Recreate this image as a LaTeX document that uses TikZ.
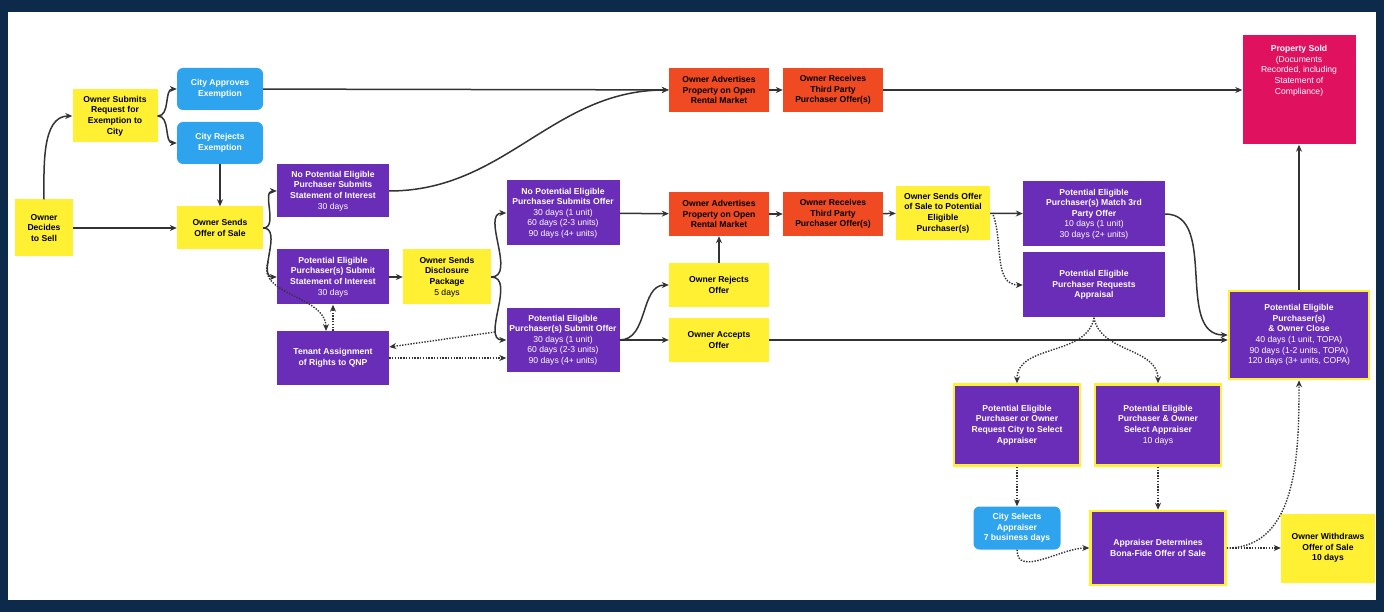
\documentclass[tikz,border=0pt]{standalone}
\usepackage{fontspec}
\setmainfont{Liberation Sans}
\usetikzlibrary{arrows.meta,calc}
\definecolor{yel}{HTML}{FFF033}
\definecolor{blu}{HTML}{2FA4EE}
\definecolor{pur}{HTML}{6A2DB8}
\definecolor{org}{HTML}{F04A23}
\definecolor{mag}{HTML}{E0115F}
\definecolor{navy}{HTML}{0E2A4A}
\definecolor{ln}{HTML}{333333}
\begin{document}
\begin{tikzpicture}[x=1pt,y=-1pt,
  box/.style={draw=none,align=center,inner sep=1pt,font=\fontsize{8.6}{10.6}\selectfont\bfseries},
  Y/.style={box,fill=yel,text=black},
  B/.style={box,fill=blu,text=white,rounded corners=6pt},
  P/.style={box,fill=pur,text=white},
  PY/.style={P,draw=yel,line width=2.5pt},
  O/.style={box,fill=org,text=black},
  M/.style={box,fill=mag,text=white},
  ar/.style={draw=ln,line width=1.5pt,-{Stealth[length=7pt,width=6pt]}},
  dt/.style={draw=ln,line width=1.4pt,dash pattern=on 1.4pt off 1.4pt,-{Stealth[length=7pt,width=6pt]}}]
\fill[navy] (0,0) rectangle (1384,612);
\fill[white] (8,12) rectangle (1376,600);
\node[Y,minimum width=58,minimum height=57] (sell) at (44,228) {Owner\\Decides\\to Sell};
\node[Y,minimum width=85,minimum height=53] (req) at (115,116) {Owner Submits\\Request for\\Exemption to\\City};
\node[B,minimum width=86,minimum height=42] (app) at (220,89) {City Approves\\Exemption};
\node[B,minimum width=86,minimum height=42] (rej) at (220,143) {City Rejects\\Exemption};
\node[Y,minimum width=86,minimum height=43] (offer) at (220,228) {Owner Sends\\Offer of Sale};
\node[P,minimum width=112,minimum height=53] (nopep) at (333,191) {No Potential Eligible\\Purchaser Submits\\Statement of Interest\\{\mdseries 30 days}};
\node[P,minimum width=112,minimum height=55] (pep) at (333,277) {Potential Eligible\\Purchaser(s) Submit\\Statement of Interest\\{\mdseries 30 days}};
\node[P,minimum width=112,minimum height=54] (ten) at (333,358) {Tenant Assignment\\of Rights to QNP};
\node[Y,minimum width=88,minimum height=55] (dis) at (447,277) {Owner Sends\\Disclosure\\Package\\{\mdseries 5 days}};
\node[P,minimum width=113,minimum height=65] (noo) at (563,213) {No Potential Eligible\\Purchaser Submits Offer\\{\mdseries 30 days (1 unit)}\\{\mdseries 60 days (2-3 units)}\\{\mdseries 90 days (4+ units)}};
\node[P,minimum width=113,minimum height=64] (sub) at (563,340) {Potential Eligible\\Purchaser(s) Submit Offer\\{\mdseries 30 days (1 unit)}\\{\mdseries 60 days (2-3 units)}\\{\mdseries 90 days (4+ units)}};
\node[O,minimum width=100,minimum height=44] (adv1) at (719,90) {Owner Advertises\\Property on Open\\Rental Market};
\node[O,minimum width=100,minimum height=44] (rec1) at (833,90) {Owner Receives\\Third Party\\Purchaser Offer(s)};
\node[O,minimum width=100,minimum height=44] (adv2) at (719,214) {Owner Advertises\\Property on Open\\Rental Market};
\node[O,minimum width=100,minimum height=44] (rec2) at (833,214) {Owner Receives\\Third Party\\Purchaser Offer(s)};
\node[Y,minimum width=100,minimum height=44] (ro) at (719,285) {Owner Rejects\\Offer};
\node[Y,minimum width=100,minimum height=44] (ao) at (719,340) {Owner Accepts\\Offer};
\node[Y,minimum width=94,minimum height=54] (sp) at (943,213) {Owner Sends Offer\\of Sale to Potential\\Eligible\\Purchaser(s)};
\node[P,minimum width=142,minimum height=65] (mat) at (1094,214) {Potential Eligible\\Purchaser(s) Match 3rd\\Party Offer\\{\mdseries 10 days (1 unit)}\\{\mdseries 30 days (2+ units)}};
\node[P,minimum width=142,minimum height=65] (ra) at (1094,285) {Potential Eligible\\Purchaser Requests\\Appraisal};
\node[M,minimum width=113,minimum height=109] (sold) at (1299,90) {Property Sold\\{\mdseries (Documents}\\{\mdseries Recorded, including}\\{\mdseries Statement of}\\{\mdseries Compliance)}\\[30pt]};
\node[PY,minimum width=140,minimum height=88] (cl) at (1299,335) {Potential Eligible\\Purchaser(s)\\\& Owner Close\\{\mdseries 40 days (1 unit, TOPA)}\\{\mdseries 90 days (1-2 units, TOPA)}\\{\mdseries 120 days (3+ units, COPA)}};
\node[PY,minimum width=126,minimum height=81] (cs) at (1017,425) {Potential Eligible\\Purchaser or Owner\\Request City to Select\\Appraiser};
\node[PY,minimum width=126,minimum height=81] (sa) at (1158,425) {Potential Eligible\\Purchaser \& Owner\\Select Appraiser\\{\mdseries 10 days}};
\node[B,minimum width=87,minimum height=43] (ca) at (1017,528) {City Selects\\Appraiser\\7 business days};
\node[PY,minimum width=135,minimum height=74] (bona) at (1158,548) {Appraiser Determines\\Bona-Fide Offer of Sale};
\node[Y,minimum width=94,minimum height=69] (wd) at (1328,548) {Owner Withdraws\\Offer of Sale\\10 days};
% connectors
\draw[ar] (sell.north) to[out=90,in=180,looseness=0.9] (req.west);
\draw[ar] (sell) -- (offer);
\draw[ar] (req.east) to[out=0,in=180] (app.west);
\draw[ar] (req.east) to[out=0,in=180] (rej.west);
\draw[ar] (rej) -- (offer);
\draw[ar] (app) -- (adv1);
\draw[ar] (offer.east) to[out=0,in=180] (nopep.west);
\draw[ar] (offer.east) to[out=0,in=180] (pep.west);
\draw[ar] (nopep.east) to[out=0,in=180] (adv1.west);
\draw[ar] (pep) -- (dis);
\draw[ar] (dis.east) to[out=0,in=180] (noo.west);
\draw[ar] (dis.east) to[out=0,in=180] (sub.west);
\coordinate (d1) at (268,262);
\draw[dt] (d1) to[out=250,in=90] (326,331);
\draw[dt] (ten.north) -- (pep.south);
\coordinate (d2) at (495,332);
\draw[dt] (d2) -- ($(ten.east)+(0,-11)$);
\draw[dt] (ten.east) -- (ten.east -| sub.west);
\draw[ar] (noo) -- (adv2);
\draw[ar] (adv2) -- (rec2);
\draw[ar] (rec2) -- (sp);
\draw[ar] (sp) -- (mat);
\draw[ar] (adv1) -- (rec1);
\draw[ar] (rec1) -- (sold);
\draw[ar] (sub.east) to[out=0,in=180] (ro.west);
\draw[ar] (sub) -- (ao);
\draw[ar] (ro) -- (adv2);
\draw[ar] (ao) -- (ao -| cl.west);
\draw[dt] ($(sp.east)+(3,2)$) to[out=-70,in=180] (ra.west);
\draw[ar] (mat.east) to[out=0,in=180] (cl.west);
\draw[ar] (cl) -- (sold);
\draw[dt] (ra.south) to[out=-100,in=90] (cs.north);
\draw[dt] (ra.south) to[out=-80,in=90] (sa.north);
\draw[dt] (cs) -- (ca);
\draw[dt] (sa) -- (bona);
\draw[dt] (ca.south) to[out=-90,in=180] (bona.west);
\draw[dt] (bona) -- (wd);
\draw[dt] (bona.east) to[out=0,in=-90] (cl.south);
\end{tikzpicture}
\end{document}
